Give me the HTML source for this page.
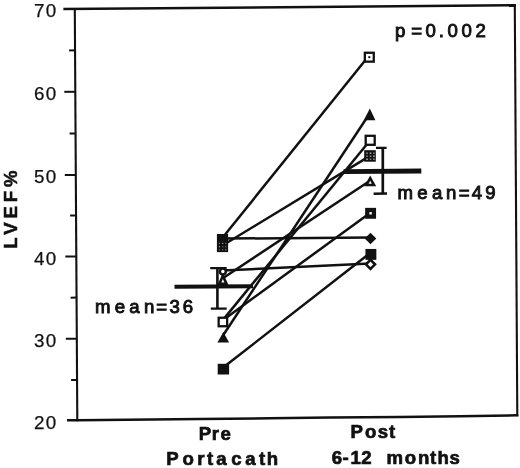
<!DOCTYPE html>
<html><head><meta charset="utf-8"><title>LVEF chart</title>
<style>
html,body{margin:0;padding:0;background:#fff;}
body{width:520px;height:468px;overflow:hidden;}
svg{display:block;will-change:transform;}
text{font-family:"Liberation Sans",Arial,Helvetica,sans-serif;fill:#111;}
.b{font-weight:bold;}
</style></head><body>
<svg width="520" height="468" viewBox="0 0 520 468">
<rect width="520" height="468" fill="#fff"/>

<line x1="63.40" y1="9.10" x2="515.80" y2="5.29" stroke="#111" stroke-width="2.5"/>
<polyline points="67.0,420.3 77.3,420.2 200,419.0 270,418.3 330,417.6 400,416.9 460,416.3 517.3,415.3 518.3,415.3" fill="none" stroke="#111" stroke-width="2.5"/>
<line x1="74.79" y1="8.00" x2="77.31" y2="421.20" stroke="#111" stroke-width="2.1"/>
<line x1="514.79" y1="4.30" x2="517.31" y2="416.30" stroke="#111" stroke-width="2.1"/>
<line x1="69.1" y1="50.4" x2="75.1" y2="50.4" stroke="#111" stroke-width="2"/>
<line x1="64.3" y1="91.8" x2="75.3" y2="91.8" stroke="#111" stroke-width="2"/>
<line x1="69.6" y1="133.6" x2="75.6" y2="133.5" stroke="#111" stroke-width="2"/>
<line x1="64.8" y1="175.1" x2="75.8" y2="175.0" stroke="#111" stroke-width="2"/>
<line x1="70.1" y1="215.5" x2="76.1" y2="215.4" stroke="#111" stroke-width="2"/>
<line x1="65.3" y1="256.6" x2="76.3" y2="256.5" stroke="#111" stroke-width="2"/>
<line x1="70.6" y1="297.7" x2="76.6" y2="297.6" stroke="#111" stroke-width="2"/>
<line x1="65.8" y1="338.8" x2="76.8" y2="338.7" stroke="#111" stroke-width="2"/>
<line x1="71.1" y1="380.1" x2="77.1" y2="380.0" stroke="#111" stroke-width="2"/>
<text x="33.9" y="17.2" font-size="18.8" letter-spacing="1.4" stroke="#111" stroke-width="0.25">70</text>
<text x="33.9" y="100.0" font-size="18.8" letter-spacing="1.4" stroke="#111" stroke-width="0.25">60</text>
<text x="33.9" y="183.2" font-size="18.8" letter-spacing="1.4" stroke="#111" stroke-width="0.25">50</text>
<text x="33.9" y="264.7" font-size="18.8" letter-spacing="1.4" stroke="#111" stroke-width="0.25">40</text>
<text x="33.9" y="346.9" font-size="18.8" letter-spacing="1.4" stroke="#111" stroke-width="0.25">30</text>
<text x="33.9" y="429.0" font-size="18.8" letter-spacing="1.4" stroke="#111" stroke-width="0.25">20</text>
<text class="b" transform="translate(16.9,207.6) rotate(-90)" font-size="18.6" text-anchor="middle" letter-spacing="3.9" stroke="#111" stroke-width="0.5">LVEF%</text>
<line x1="222.5" y1="237.8" x2="369.3" y2="55.2" stroke="#111" stroke-width="2.5"/>
<line x1="223.3" y1="335" x2="370.5" y2="112.3" stroke="#111" stroke-width="2.5"/>
<line x1="223.2" y1="319.6" x2="370.2" y2="140.3" stroke="#111" stroke-width="2.5"/>
<line x1="222.5" y1="245.5" x2="370" y2="155.9" stroke="#111" stroke-width="2.5"/>
<line x1="222.8" y1="278.2" x2="370" y2="180.8" stroke="#111" stroke-width="2.5"/>
<line x1="223.2" y1="320.0" x2="370.7" y2="212.4" stroke="#111" stroke-width="2.5"/>
<line x1="222.5" y1="238.6" x2="370.7" y2="237.6" stroke="#111" stroke-width="2.5"/>
<line x1="223.5" y1="367.3" x2="370.9" y2="252.4" stroke="#111" stroke-width="2.5"/>
<line x1="222.6" y1="270.5" x2="370.5" y2="263.5" stroke="#111" stroke-width="2.5"/>
<line x1="174.5" y1="286.7" x2="253" y2="286.2" stroke="#111" stroke-width="4.1"/>
<line x1="217.4" y1="268.3" x2="217.4" y2="308.6" stroke="#111" stroke-width="2.6"/>
<line x1="210.2" y1="268.2" x2="226.7" y2="268.1" stroke="#111" stroke-width="2.3"/>
<line x1="210.8" y1="308.7" x2="226.7" y2="308.6" stroke="#111" stroke-width="2.3"/>
<line x1="343.6" y1="171.6" x2="421.3" y2="171.0" stroke="#111" stroke-width="4.9"/>
<line x1="382.8" y1="147.8" x2="382.8" y2="193.4" stroke="#111" stroke-width="2.7"/>
<line x1="376" y1="147.9" x2="386.6" y2="147.8" stroke="#111" stroke-width="2.3"/>
<line x1="373.6" y1="193.75" x2="387" y2="193.6" stroke="#111" stroke-width="2.5"/>
<rect x="364.85" y="52.75" width="8.90" height="8.90" fill="#fff" stroke="#111" stroke-width="2.3"/>
<rect x="368.3" y="56.2" width="2" height="2" fill="#111"/>
<polygon points="369.8,108.5 375.4,120.2 363.9,120.2" fill="#111"/>
<rect x="365.70" y="135.80" width="9.00" height="9.00" fill="#fff" stroke="#111" stroke-width="2.3"/>
<rect x="364.2" y="150.2" width="11.6" height="11.5" fill="#111"/>
<rect x="366.2" y="152.5" width="1.6" height="1.4" fill="#999"/>
<rect x="366.2" y="155.5" width="1.6" height="1.4" fill="#888"/>
<rect x="366.2" y="158.5" width="1.6" height="1.4" fill="#bbb"/>
<rect x="369.7" y="152.5" width="1.6" height="1.4" fill="#bbb"/>
<rect x="369.7" y="155.5" width="1.6" height="1.4" fill="#999"/>
<rect x="369.7" y="158.5" width="1.6" height="1.4" fill="#888"/>
<rect x="373.09999999999997" y="152.5" width="1.6" height="1.4" fill="#888"/>
<rect x="373.09999999999997" y="155.5" width="1.6" height="1.4" fill="#bbb"/>
<rect x="373.09999999999997" y="158.5" width="1.6" height="1.4" fill="#999"/>
<polygon points="370.2,175.4 376.2,186.3 364.2,186.3" fill="#111"/>
<polygon points="370.2,180.79 371.80,183.70 368.60,183.70" fill="#fff"/>
<rect x="365.15" y="207.85" width="10.9" height="10.9" fill="#111"/>
<rect x="369.40000000000003" y="212.10000000000002" width="2.4" height="2.4" fill="#fff"/>
<polygon points="370.5,232.7 376.3,238.5 370.5,244.3 364.7,238.5" fill="#111"/>
<polygon points="370.5,259.8 375.0,264.3 370.5,268.8 366.0,264.3" fill="#fff" stroke="#111" stroke-width="2.6"/>
<rect x="365.45" y="248.95" width="10.9" height="10.9" fill="#111"/>
<rect x="216.9" y="234" width="11.2" height="18.1" fill="#111"/>
<rect x="218.8" y="242.8" width="1.2" height="1.2" fill="#777"/>
<rect x="218.8" y="246.1" width="1.2" height="1.2" fill="#999"/>
<rect x="218.8" y="249.20000000000002" width="1.2" height="1.2" fill="#666"/>
<rect x="222.1" y="242.8" width="1.2" height="1.2" fill="#999"/>
<rect x="222.1" y="246.1" width="1.2" height="1.2" fill="#666"/>
<rect x="222.1" y="249.20000000000002" width="1.2" height="1.2" fill="#777"/>
<rect x="225.20000000000002" y="242.8" width="1.2" height="1.2" fill="#666"/>
<rect x="225.20000000000002" y="246.1" width="1.2" height="1.2" fill="#777"/>
<rect x="225.20000000000002" y="249.20000000000002" width="1.2" height="1.2" fill="#999"/>
<polygon points="222.85,272.4 228.5,285.0 217.5,285.0" fill="#111"/>
<polygon points="222.85,278.90 224.38,282.40 221.32,282.40" fill="#fff"/>
<circle cx="222.85" cy="271.5" r="3.0" fill="#fff" stroke="#111" stroke-width="2.5"/>
<rect x="218.65" y="317.75" width="8.50" height="8.50" fill="#fff" stroke="#111" stroke-width="2.3"/>
<polygon points="223.3,331.9 229.1,342.6 217.4,342.6" fill="#111"/>
<rect x="217.7" y="363.8" width="11.4" height="10.7" fill="#111"/>
<text transform="translate(394.94,36.5)" x="0.00 16.22 30.50 43.78 52.50 66.50 80.60" y="0" font-size="18.6" stroke="#111" stroke-width="0.95" xml:space="preserve">p=0.002</text>
<text transform="translate(397.52,199.1)" x="0.00 19.67 34.37 48.57 61.19 74.27 87.62" y="0" font-size="18.6" stroke="#111" stroke-width="0.95" xml:space="preserve">mean=49</text>
<text transform="translate(94.97,313.3)" x="0.00 19.87 34.37 49.02 61.34 74.47 87.82" y="0" font-size="18.6" stroke="#111" stroke-width="0.95" xml:space="preserve">mean=36</text>
<text class="b" transform="translate(198.83,440.0)" x="0.00 12.83 21.71" y="0" font-size="18.6" stroke="#111" stroke-width="0.7" xml:space="preserve">Pre</text>
<text class="b" transform="translate(166.13,464.8)" x="0.00 16.46 31.23 40.79 50.01 65.06 79.01 92.79 100.51" y="0" font-size="18.6" stroke="#111" stroke-width="0.7" xml:space="preserve">Portacath</text>
<text class="b" transform="translate(350.43,438.1)" x="0.00 14.56 27.31 38.59" y="0" font-size="18.6" stroke="#111" stroke-width="0.7" xml:space="preserve">Post</text>
<text class="b" transform="translate(331.64,463.9)" x="0.00 10.93 18.90 29.60 36.85 54.87 73.15 86.45 98.43 105.95 117.80" y="0" font-size="18.6" stroke="#111" stroke-width="0.7" xml:space="preserve">6-12 months</text>
</svg></body></html>
